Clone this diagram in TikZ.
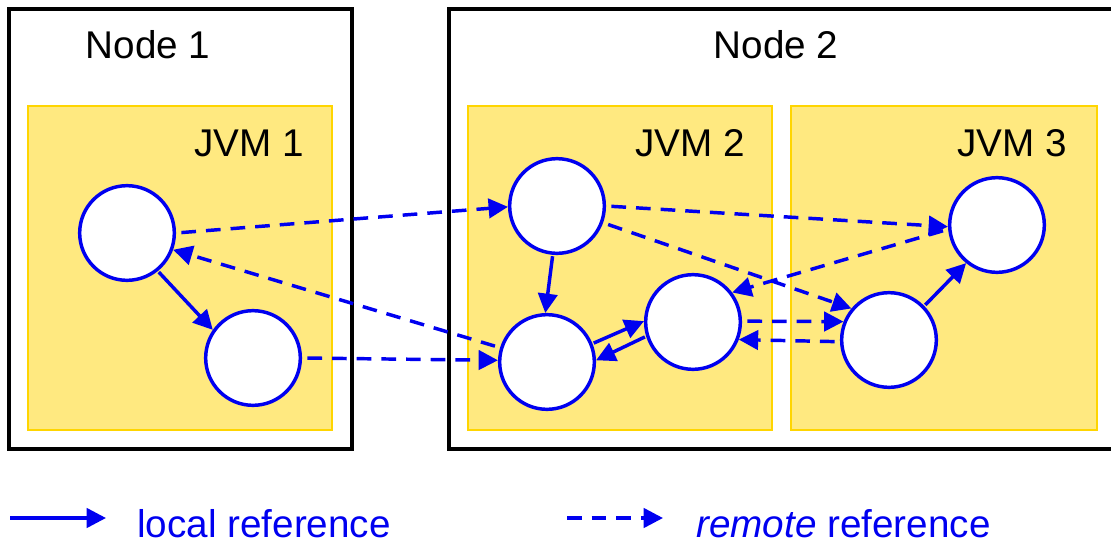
\documentclass[tikz,border=0pt]{standalone}
\usepackage{fontspec}
\setmainfont{Liberation Sans}
\usetikzlibrary{arrows.meta}
\definecolor{jvmfill}{RGB}{255,233,128}
\definecolor{jvmline}{RGB}{255,213,0}
\definecolor{refblue}{RGB}{0,0,240}
\begin{document}
\begin{tikzpicture}[x=0.75pt,y=-0.75pt,
  hostbox/.style={draw=black,line width=2.6pt},
  jvmbox/.style={draw=jvmline,fill=jvmfill,line width=2.2pt},
  label/.style={font=\fontsize{29}{33}\selectfont,anchor=base,inner sep=0pt},
  obj/.style={circle,draw=refblue,fill=white,line width=2.6pt,minimum size=71pt,inner sep=0pt},
  ref/.style={draw=refblue,line width=2.6pt,-{Triangle[length=14.5pt,width=14.5pt]}},
  localref/.style={ref,shorten <=1pt},
  remoteref/.style={ref,dash pattern=on 11pt off 7.5pt,shorten <=4pt}]
\useasboundingbox (0,0) rectangle (1111,543);
% hosts
\draw[hostbox] (9,9) rectangle (352,449);
\draw[hostbox] (449,9) rectangle (1130,449);
\node[label] (n1) at (148,58) {Node 1};
\node[label] (n2) at (776,58) {Node 2};
% virtual machines
\draw[jvmbox] (28,106) rectangle (332,430);
\draw[jvmbox] (468,106) rectangle (772,430);
\draw[jvmbox] (791,106) rectangle (1097,430);
\node[label] (j1) at (249,156) {JVM 1};
\node[label] (j2) at (690,156) {JVM 2};
\node[label] (j3) at (1012,156) {JVM 3};
% objects
\node[obj] (A) at (127,233) {};
\node[obj] (B) at (253,358) {};
\node[obj] (C) at (557,206) {};
\node[obj] (D) at (547,362) {};
\node[obj] (E) at (693,322) {};
\node[obj] (F) at (997,225) {};
\node[obj] (G) at (889,340) {};
% local references
\draw[localref] (A.-51) -- (B.145);
\draw[localref] (C.265) -- (D.92);
\draw[localref] (D.22) -- (E.179);
\draw[localref] (E.-163) -- (D.2);
\draw[localref] (G.44) -- (F.231);
% remote references
\draw[remoteref] (A.0) -- (C.181);
\draw[remoteref] (D.163) -- (A.-20);
\draw[remoteref] (B.0) -- (D.178);
\draw[remoteref] (C.0) -- (F.182);
\draw[remoteref] (C.-20) -- (G.140);
\draw[remoteref] (F.185) -- (E.37);
\draw[remoteref] (E.1) -- (G.158);
\draw[remoteref] (G.182) -- (E.-21);
% legend
\coordinate (l1) at (10,518);
\coordinate (l2) at (106,518);
\coordinate (r1) at (567,518);
\coordinate (r2) at (663,518);
\draw[ref] (l1) -- (l2);
\draw[ref,dash pattern=on 11pt off 7.5pt] (r1) -- (r2);
\node[label,anchor=base west,text=refblue] (lt) at (137,537) {local reference};
\node[label,anchor=base west,text=refblue] (rt) at (696,537) {\textit{remote} reference};
\end{tikzpicture}
\end{document}
